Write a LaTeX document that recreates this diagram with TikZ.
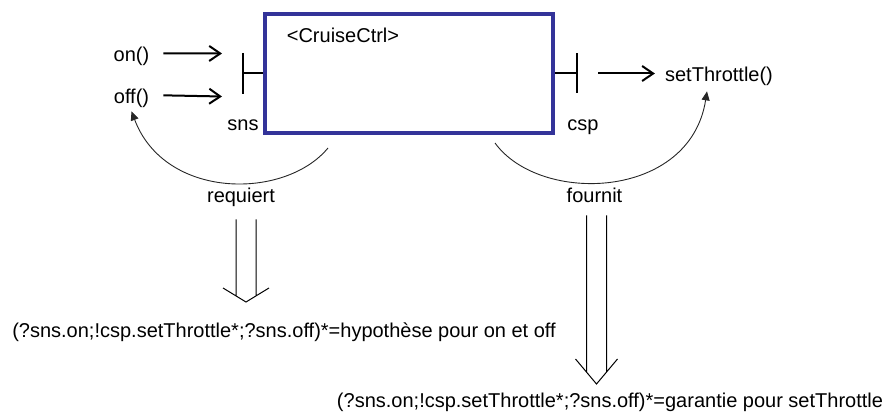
\documentclass[tikz,border=0pt]{standalone}
\usepackage{fontspec}
\setmainfont{Liberation Sans}
\usetikzlibrary{arrows.meta,calc,positioning}
\definecolor{boxblue}{RGB}{51,51,153}
\tikzstyle{lbl} = [font=\fontsize{20}{24}\selectfont,inner sep=0pt,anchor=base]
\tikzstyle{comp} = [draw=boxblue,line width=4pt,minimum width=288pt,minimum height=119pt,inner sep=0pt]
\tikzstyle{port} = [line width=2pt]
\tikzstyle{call} = [line width=2pt,-{Straight Barb[length=11pt,width=15pt]}]
\tikzstyle{arcarrow} = [line width=0.9pt,black!85,-{Triangle[length=9pt,width=8pt]}]
\tikzstyle{implies} = [line width=1pt]
% double arrow: top, tip, arm dx, arm dy
\newcommand{\implarrow}[4]{%
  \draw[implies] ($(#1)+(-10,0)$) -- ($(#2)+(-10,{-10*#4/#3})$)
                 ($(#1)+(10,0)$) -- ($(#2)+(10,{-10*#4/#3})$)
                 ($(#2)+(-#3,-#4)$) -- (#2) -- ($(#2)+(#3,-#4)$);}

\begin{document}
\begin{tikzpicture}[x=1pt,y=-1pt]
    \useasboundingbox (0,0) rectangle (892,414);

    \node[comp] (cruise) at (409,73.5) {};
    \node[lbl] (name) at (343,43) {<CruiseCtrl>};

    % ports
    \draw[port] (cruise.west) -- ++(-20,0) coordinate (snsbar);
    \draw[port] ($(snsbar)+(0,-20.5)$) -- ($(snsbar)+(0,20.5)$);
    \draw[port] (cruise.east) -- ++(22,0) coordinate (cspbar);
    \draw[port] ($(cspbar)+(0,-20)$) -- ($(cspbar)+(0,20)$);
    \node[lbl] (sns) at (243,131) {sns};
    \node[lbl] (csp) at (583,131) {csp};

    \node[lbl] (on) at (131.5,62) {on()};
    \node[lbl] (off) at (131.5,104) {off()};
    \node[lbl] (setthr) at (719,82) {setThrottle()};
    \draw[call] ($(on.east)+(14,-3.5)$) -- ($(snsbar)+(-21,-20)$);
    \draw[call] ($(off.east)+(14,-3.5)$) -- ($(snsbar)+(-21,23)$);
    \draw[call] ($(cspbar)+(21,0)$) -- ($(cspbar -| setthr.west)+(-10,0)$);

    \node[lbl] (req) at (241,203) {requiert};
    \node[lbl] (four) at (594.5,203) {fournit};
    \coordinate (reqstart) at (328,148);
    \coordinate (fourstart) at (495,143);
    \draw[arcarrow] (reqstart) .. controls (285,200) and (165,200) .. ($(off.south)+(0,3)$);
    \draw[arcarrow] (fourstart) .. controls (540,205) and (690,200) .. ($(setthr.south)+(-12,5)$);

    \node[lbl] (hyp) at (284,337) {(?sns.on;!csp.setThrottle*;?sns.off)*=hypothèse pour on et off};
    \node[lbl] (gar) at (610,407) {(?sns.on;!csp.setThrottle*;?sns.off)*=garantie pour setThrottle};
    \coordinate (reqtop) at ($(req.south)+(5,12)$);
    \coordinate (reqtip) at (246,302);
    \coordinate (fourtop) at ($(four.south)+(2,12)$);
    \coordinate (fourtip) at (596.5,384);
    \implarrow{reqtop}{reqtip}{23}{14}
    \implarrow{fourtop}{fourtip}{21}{25}
\end{tikzpicture}
\end{document}
